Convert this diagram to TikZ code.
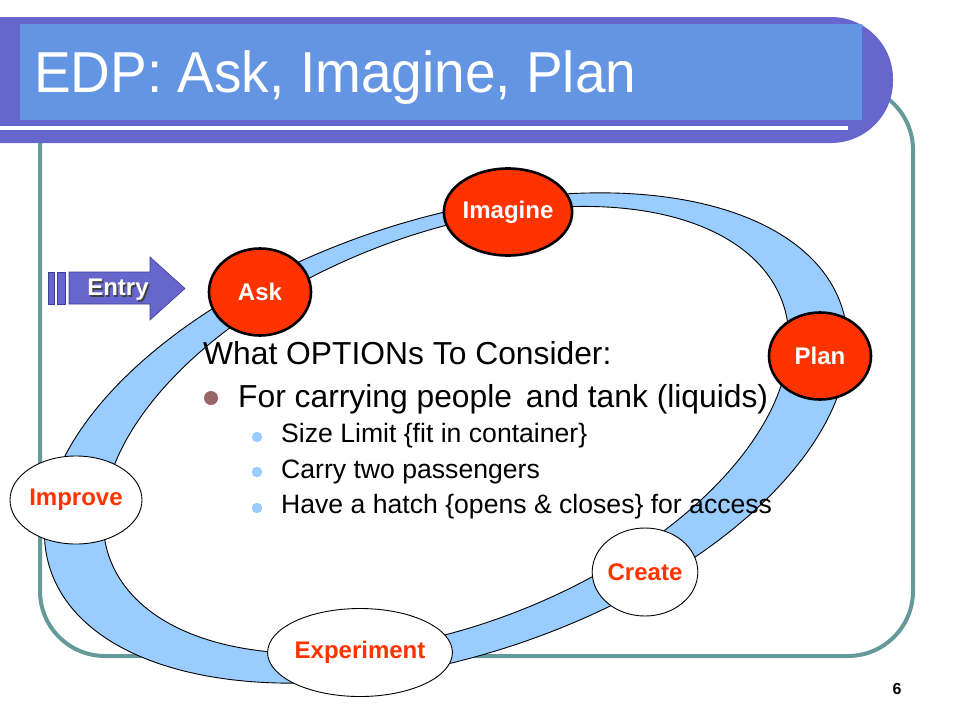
\documentclass[tikz,border=0pt]{standalone}
\usepackage{fontspec}
\setmainfont{Liberation Sans}
\definecolor{barpurple}{HTML}{6666CC}
\definecolor{barblue}{HTML}{6495E2}
\definecolor{framecol}{HTML}{669999}
\definecolor{ringblue}{HTML}{99CCFF}
\definecolor{stepred}{HTML}{FF3300}
\definecolor{bulletbrown}{HTML}{996666}
\definecolor{arrowedge}{HTML}{3F3F99}
\tikzset{
  redstep/.style={ellipse, fill=stepred, draw=black, line width=2.6pt, text=white,
    font=\fontsize{24}{28}\selectfont\bfseries, inner sep=0pt, minimum width=102pt, minimum height=87pt},
  whitestep/.style={ellipse, fill=white, draw=black, line width=0.9pt, text=stepred,
    font=\fontsize{24}{28}\selectfont\bfseries, inner sep=0pt, minimum width=104pt, minimum height=88pt},
  bodytext/.style={anchor=base west, inner sep=0pt, text=black},
  mainline/.style={bodytext, font=\fontsize{31.8}{36}\selectfont},
  subline/.style={bodytext, font=\fontsize{26.6}{30}\selectfont},
  subdot/.style={circle, fill=ringblue, inner sep=0pt, minimum size=10.5pt},
}
\usetikzlibrary{shapes.geometric}
\begin{document}
\begin{tikzpicture}[x=1pt,y=-1pt]
\useasboundingbox (0,0) rectangle (960,720);
\begin{scope}
\clip (0,0) rectangle (960,720);
% frame
\draw[framecol, line width=4pt, rounded corners=65pt] (40,85) rectangle (913,656);
% title bar
\fill[barpurple, rounded corners=62pt] (-100,17) rectangle (893,143);
\fill[barblue] (20,24) rectangle (862,120);
\fill[white] (-5,126) rectangle (848,130);
\node[anchor=base west, inner sep=0pt, text=white, font=\fontsize{55}{60}\selectfont] (title) at (34,92.7) {\scalebox{1}[1.05]{EDP: Ask, Imagine, Plan}};
% ring
\path[fill=ringblue, draw=black, line width=0.9pt, even odd rule]
  plot[domain=0:360, samples=241] ({446 + 417*cos(\x)*cos(18.4) + 218*sin(\x)*sin(18.4)}, {438 - 417*cos(\x)*sin(18.4) + 218*sin(\x)*cos(18.4)}) -- cycle
  plot[domain=0:360, samples=241] ({446 + 360*cos(\x)*cos(21.2) + 195*sin(\x)*sin(21.2)}, {430 - 360*cos(\x)*sin(21.2) + 195*sin(\x)*cos(21.2)}) -- cycle;
% entry arrow
\filldraw[fill=barpurple, draw=arrowedge, line width=0.6pt] (48,272) rectangle (54,304);
\filldraw[fill=barpurple, draw=arrowedge, line width=0.6pt] (57,272) rectangle (65,304);
\filldraw[fill=barpurple, draw=arrowedge, line width=0.6pt]
  (69,272) -- (150,272) -- (150,257) -- (185,288.5) -- (150,320) -- (150,304) -- (69,304) -- cycle;
\node[text=black!75, font=\fontsize{24}{28}\selectfont\bfseries, inner sep=0pt] (entryshadow) at (119.5,291.5) {Entry};
\node[text=white, font=\fontsize{24}{28}\selectfont\bfseries, inner sep=0pt] (entry) at (118,290) {Entry};
% text
\node[mainline] (head) at (203,364.5) {What OPTIONs To Consider:};
\node[circle, fill=bulletbrown, inner sep=0pt, minimum size=14pt] (b1) at (211,398) {};
\node[mainline] (l1) at (238,407) {For carrying people\hspace{5pt} and tank (liquids)};
\node[subdot] (d1) at (257,437) {};
\node[subline] (s1) at (281,442.5) {Size Limit \{fit in container\}};
\node[subdot] (d2) at (257,472) {};
\node[subline] (s2) at (281,478) {Carry two passengers};
\node[subdot] (d3) at (257,508) {};
\node[subline] (s3) at (281,513.5) {Have a hatch \{opens \& closes\} for access};
% steps
\node[redstep] (ask) at (260,292) {Ask};
\node[redstep] (imagine) at (508,212) {Imagine};
\node[redstep] (plan) at (820,356) {Plan};
\node[whitestep] (create) at (645,572) {Create};
\node[whitestep, minimum width=144pt] (experiment) at (360,652.5) {Experiment};
\node[whitestep] (improve) at (76,500) {Improve};
% page number
\node[font=\fontsize{16}{18}\selectfont\bfseries, inner sep=0pt] (pagenum) at (897,689) {6};
\end{scope}
\end{tikzpicture}
\end{document}
